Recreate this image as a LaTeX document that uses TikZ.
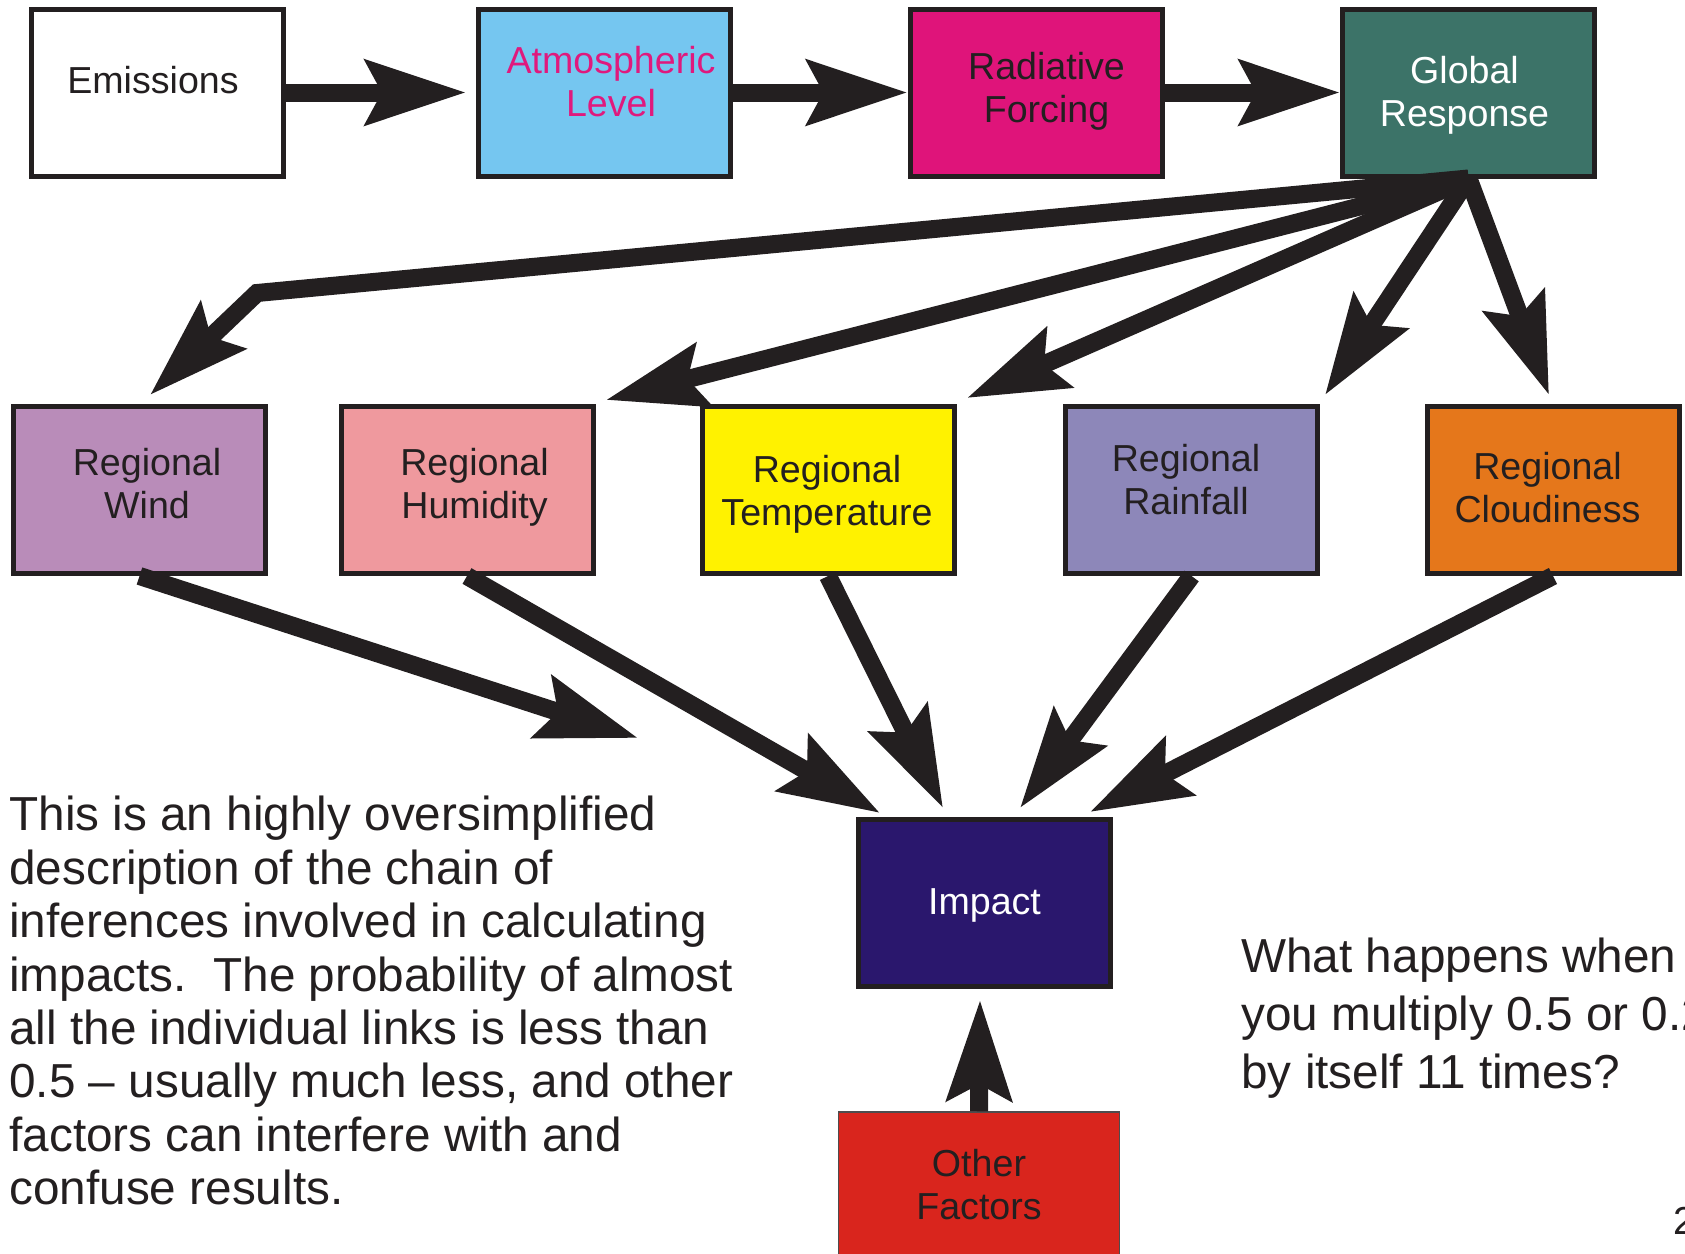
\documentclass[tikz,border=0pt]{standalone}
\usepackage{fontspec}
\setmainfont{Liberation Sans}
\usetikzlibrary{arrows.meta,calc}
\definecolor{ink}{HTML}{231F20}
\definecolor{atmosfill}{HTML}{75C6F0}
\definecolor{atmostext}{HTML}{E0197D}
\definecolor{radfill}{HTML}{DF147A}
\definecolor{globfill}{HTML}{3C7368}
\definecolor{windfill}{HTML}{B98CB9}
\definecolor{humfill}{HTML}{EF999E}
\definecolor{tempfill}{HTML}{FFF200}
\definecolor{rainfill}{HTML}{8D87B9}
\definecolor{cloudfill}{HTML}{E5771B}
\definecolor{impfill}{HTML}{2A176D}
\definecolor{otherfill}{HTML}{D9251D}
\tikzset{
  box/.style={draw=ink, line width=2.5pt, minimum width=126pt, minimum height=83.5pt,
    inner sep=0pt},
  boxtext/.style={inner sep=0pt, align=center, text=ink, font=\fontsize{18.8pt}{21.5pt}\selectfont},
  conn/.style={draw=ink, line width=9pt, line join=miter,
    -{Stealth[length=50pt,width=32pt,inset=8pt]}},
  para/.style={anchor=north west, align=left, inner sep=0pt, text=ink}
}
\begin{document}
\begin{tikzpicture}[x=0.5pt,y=-0.5pt]
\useasboundingbox (0,0) rectangle (1685,1253);
\fill[white] (0,0) rectangle (1685,1253);
\clip (0,0) rectangle (1685,1253);

% top row
\node[box, fill=white] (E) at (157,92.5) {};
\node[box, fill=atmosfill] (A) at (604.5,92.5) {};
\node[box, fill=radfill] (R) at (1036,92.5) {};
\node[box, fill=globfill] (G) at (1468.5,92.5) {};

% regional row
\node[box, fill=windfill] (W) at (139.5,490) {};
\node[box, fill=humfill] (H) at (467,490) {};
\node[box, fill=tempfill] (T) at (828,490) {};
\node[box, fill=rainfill] (Rn) at (1191.5,490) {};
\node[box, fill=cloudfill] (C) at (1553,490) {};

% impact and other
\node[box, fill=impfill] (I) at (984.5,903) {};
\node[box, fill=otherfill, line width=0.75pt, draw=ink!80, minimum width=140.5pt, minimum height=73pt] (O) at (979,1185) {};

% box texts
\node[boxtext] (Etx) at ($(E)+(-4,-12)$) {Emissions};
\node[boxtext, text=atmostext] (Atx) at ($(A)+(6.5,-11)$) {Atmospheric\\Level};
\node[boxtext] (Rtx) at ($(R)+(10.5,-1)$) {Radiative\\Forcing};
\node[boxtext, text=white] (Gtx) at ($(G)+(-4,3)$) {Global\\Response};
\node[boxtext] (Wtx) at ($(W)+(7.5,-6.5)$) {Regional\\Wind};
\node[boxtext] (Htx) at ($(H)+(7.5,-3)$) {Regional\\Humidity};
\node[boxtext] (Ttx) at ($(T)+(-1,4)$) {Regional\\Temperature};
\node[boxtext] (Rntx) at ($(Rn)+(-5.5,-10)$) {Regional\\Rainfall};
\node[boxtext] (Ctx) at ($(C)+(-5.5,-2)$) {Regional\\Cloudiness};
\node[boxtext, text=white] (Itx) at ($(I)+(0,2)$) {Impact};
\node[boxtext] (Otx) at (O) {Other\\Factors};

% free ends
\coordinate (tEA) at (466,92.5);
\coordinate (bW) at (257,293);
\coordinate (tW) at (150,395);
\coordinate (tH) at (606,400);
\coordinate (tT) at (967,398);
\coordinate (tRn) at (1325,395);
\coordinate (tC) at (1549,395);
\coordinate (tWI) at (638,738);
\coordinate (tHI) at (880,813);
\coordinate (tTI) at (943,808);
\coordinate (tRI) at (1020,808);
\coordinate (tCI) at (1090,812);
\coordinate (tOI) at (980,1000);

% connectors
\draw[conn] (E.east) -- (tEA);
\draw[conn] (A) -- (R);
\draw[conn] (R) -- (G);

\draw[conn] (G.south) -- (bW) -- (tW);
\draw[conn] (G.south) -- (tH);
\draw[conn] (G.south) -- (tT);
\draw[conn] (G.south) -- (tRn);
\draw[conn] (G.south) -- (tC);

\draw[conn] (W.south) -- (tWI);
\draw[conn] (H.south) -- (tHI);
\draw[conn] (T.south) -- (tTI);
\draw[conn] (Rn.south) -- (tRI);
\draw[conn] (C.south) -- (tCI);
\draw[conn] (O.north) -- (tOI);

% texts
\node[para, font=\fontsize{23.85pt}{26.7pt}\selectfont] (leftpara) at (9,796)
 {This is an highly oversimplified\\
  description of the chain of\\
  inferences involved in calculating\\
  impacts.\ \ The probability of almost\\
  all the individual links is less than\\
  0.5 – usually much less, and other\\
  factors can interfere with and\\
  confuse results.};
\node[para, font=\fontsize{23.85pt}{28.8pt}\selectfont] (rightpara) at (1241,938)
 {What happens when\\
  you multiply 0.5 or 0.25\\
  by itself 11 times?};
\node[anchor=base west, inner sep=0pt, text=ink, font=\fontsize{19.5pt}{22pt}\selectfont] (pagenum) at (1673,1234) {2};
\end{tikzpicture}
\end{document}
